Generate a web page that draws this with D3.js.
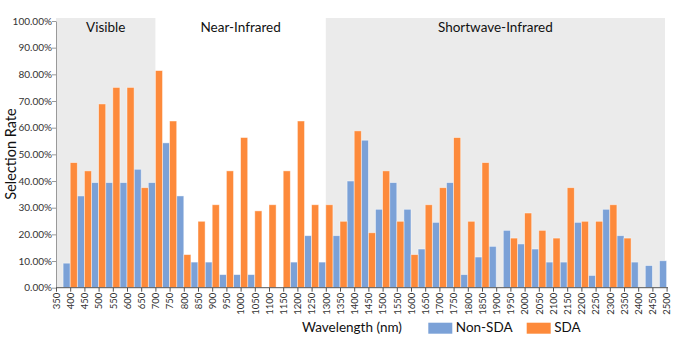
<!DOCTYPE html>
<html><head><meta charset="utf-8">
<script src="https://cdn.jsdelivr.net/npm/d3@7"></script>
<style>body{margin:0;background:#fff}svg{display:block;font-family:Lato,"Open Sans",sans-serif}</style>
</head><body><svg id="c" width="687" height="362"></svg>
<script>
const categories = [350,400,450,500,550,600,650,700,750,800,850,900,950,1000,1050,1100,1150,1200,1250,1300,1350,1400,1450,1500,1550,1600,1650,1700,1750,1800,1850,1900,1950,2000,2050,2100,2150,2200,2250,2300,2350,2400,2450,2500];
const nonSDA = [0,9.2,34.4,39.4,39.4,39.4,44.4,39.4,54.3,34.4,9.6,9.6,4.9,4.9,4.9,0,0,9.6,19.5,9.6,19.5,40.0,55.3,29.4,39.4,29.4,14.5,24.5,39.4,4.9,11.5,15.5,21.5,16.4,14.5,9.6,9.6,24.5,4.6,29.4,19.5,9.6,8.3,10.1];
const SDA = [0,46.9,43.8,68.9,75.1,75.1,37.5,81.4,62.5,12.4,24.9,31.1,43.8,56.3,28.8,31.1,43.8,62.5,31.1,31.1,24.9,58.8,20.6,43.8,24.9,12.4,31.1,37.5,56.3,24.9,46.9,0,18.6,28.0,21.5,18.6,37.5,24.9,24.9,31.1,18.6,0,0,0];
const yTicks = [0,10,20,30,40,50,60,70,80,90,100];
const regions = [{name:"Visible", from:350, to:700}, {name:"Near-Infrared", from:700, to:1300, plain:true}, {name:"Shortwave-Infrared", from:1300, to:2500}];
const seriesNames = ["Non-SDA","SDA"];
const colors = ["#7ba1d7","#fd8a3b"];

const svg = d3.select("#c");
const x = d3.scalePoint().domain(categories).range([56, 666.6]);
const y = d3.scaleLinear().domain([0,100]).range([287.7, 21]);
const step = x.step();
const bw = step/2;

// region bands
svg.selectAll("rect.band").data(regions.filter(r=>!r.plain)).join("rect")
  .attr("x", d=>x(d.from)).attr("y", 18)
  .attr("width", d=>Math.min(x(d.to),665)-x(d.from)).attr("height", y(0)-18)
  .attr("fill", "#ebebeb");
svg.selectAll("text.band").data(regions).join("text")
  .attr("x", d=>(x(d.from)+Math.min(x(d.to),665))/2).attr("y", 32)
  .attr("text-anchor","middle").attr("font-size", 13.5).attr("fill","#111")
  .text(d=>d.name);

// bars
const g = svg.append("g");
[nonSDA, SDA].forEach((vals, si) => {
  g.selectAll(null).data(categories.map((c,i)=>({c, v:vals[i]})).filter(d=>d.v>0)).join("rect")
    .attr("x", d=>x(d.c) - bw + si*bw).attr("y", d=>y(d.v))
    .attr("width", bw).attr("height", d=>y(0)-y(d.v))
    .attr("fill", colors[si]).attr("stroke","#fff").attr("stroke-opacity",0.55).attr("stroke-width",0.8);
});

// y axis
const ya = svg.append("g").attr("transform","translate(56,0)")
  .call(d3.axisLeft(y).tickValues(yTicks).tickFormat(d=>d.toFixed(2)+"%").tickSize(4).tickSizeOuter(0));
ya.select(".domain").attr("stroke","#999");
ya.selectAll(".tick line").attr("stroke","#999");
ya.selectAll("text").attr("font-family","Lato,sans-serif").attr("font-size",10).attr("fill","#333").attr("x",-4);

// x axis
const xa = svg.append("g").attr("transform",`translate(0,${y(0)})`)
  .call(d3.axisBottom(x).tickSize(4).tickSizeOuter(0));
xa.select(".domain").attr("stroke","#555").attr("d", `M56,0H668`);
xa.selectAll(".tick line").attr("stroke","#555");
xa.selectAll("text").attr("font-family","Lato,sans-serif").attr("font-size",9.5).attr("fill","#333")
  .attr("transform","rotate(-90)").attr("text-anchor","end").attr("x",-5).attr("y",0).attr("dy","0.35em");

// titles
svg.append("text").attr("x",352).attr("y",332).attr("text-anchor","middle").attr("font-size",13.5).attr("fill","#111").text("Wavelength (nm)");
svg.append("text").attr("transform","translate(16,154) rotate(-90)").attr("text-anchor","middle").attr("font-size",14.5).attr("fill","#111").text("Selection Rate");

// legend
const legX = [428.3, 526.7];
seriesNames.forEach((n,i)=>{
  svg.append("rect").attr("x",legX[i]).attr("y",322.7).attr("width",24).attr("height",11).attr("fill",colors[i]);
  svg.append("text").attr("x",legX[i]+27.5).attr("y",332).attr("font-size",13.5).attr("fill","#111").text(n);
});
</script></body></html>
